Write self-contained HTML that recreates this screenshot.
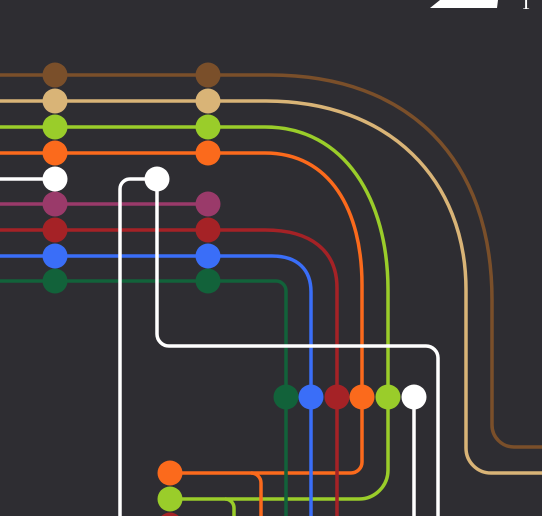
<!DOCTYPE html>
<html><head><style>html,body{margin:0;padding:0;background:#2e2d32;}svg{display:block}</style></head>
<body>
<svg width="542" height="516" viewBox="0 0 542 516" xmlns="http://www.w3.org/2000/svg" fill="none" stroke-width="3.5" stroke-linecap="butt">
<rect width="542" height="516" fill="#2e2d32"/>
<path d="M430 8 L440 0 L498 0 L497 8 Z" fill="#fff" stroke="none"/>
<text x="520" y="9" fill="#fff" font-family="Liberation Serif, serif" font-size="20">T</text>
<path d="M0 75 H270 C410 75 492 160 492 300 V425 A22 22 0 0 0 514 447 H542" stroke="#7a4f2a"/>
<path d="M0 101 H266 C390 101 466 180 466 290 V448 A25 25 0 0 0 491 473 H542" stroke="#d9b477"/>
<path d="M0 127 H265 C345 127 388 200 388 290 V470 A29 29 0 0 1 359 499 H170" stroke="#9acd2a"/>
<path d="M225 499 A9 9 0 0 1 234 508 V516" stroke="#9acd2a"/>
<path d="M0 153 H265 C330 153 362 210 362 285 V462 A11 11 0 0 1 351 473 H170" stroke="#fb6a1c"/>
<path d="M251 473 A10 10 0 0 1 261 483 V516" stroke="#fb6a1c"/>
<path d="M0 204 H208" stroke="#9a3a6a"/>
<path d="M0 230 H265 C310 230 337 250 337 288 V516" stroke="#a52226"/>
<path d="M0 256 H272 C298 256 311 270 311 292 V516" stroke="#3a6ef8"/>
<path d="M0 281 H276 A10 10 0 0 1 286 291 V516" stroke="#12623a"/>
<path d="M0 179 H55" stroke="#fff"/>
<path d="M157 179 H130 A10 10 0 0 0 120 189 V516" stroke="#fff"/>
<path d="M157 179 V334 A12 12 0 0 0 169 346 H426 A12 12 0 0 1 438 358 V516" stroke="#fff"/>
<path d="M414 397 V516" stroke="#fff"/>
<g stroke="none">
<circle cx="55" cy="75" r="12.5" fill="#7a4f2a"/><circle cx="208" cy="75" r="12.5" fill="#7a4f2a"/>
<circle cx="55" cy="101" r="12.5" fill="#d9b477"/><circle cx="208" cy="101" r="12.5" fill="#d9b477"/>
<circle cx="55" cy="127" r="12.5" fill="#9acd2a"/><circle cx="208" cy="127" r="12.5" fill="#9acd2a"/>
<circle cx="55" cy="153" r="12.5" fill="#fb6a1c"/><circle cx="208" cy="153" r="12.5" fill="#fb6a1c"/>
<circle cx="55" cy="179" r="12.5" fill="#fff"/><circle cx="157" cy="179" r="12.5" fill="#fff"/>
<circle cx="55" cy="204" r="12.5" fill="#9a3a6a"/><circle cx="208" cy="204" r="12.5" fill="#9a3a6a"/>
<circle cx="55" cy="230" r="12.5" fill="#a52226"/><circle cx="208" cy="230" r="12.5" fill="#a52226"/>
<circle cx="55" cy="256" r="12.5" fill="#3a6ef8"/><circle cx="208" cy="256" r="12.5" fill="#3a6ef8"/>
<circle cx="55" cy="281" r="12.5" fill="#12623a"/><circle cx="208" cy="281" r="12.5" fill="#12623a"/>
<circle cx="286" cy="397" r="12.5" fill="#12623a"/>
<circle cx="311" cy="397" r="12.5" fill="#3a6ef8"/>
<circle cx="337" cy="397" r="12.5" fill="#a52226"/>
<circle cx="362" cy="397" r="12.5" fill="#fb6a1c"/>
<circle cx="388" cy="397" r="12.5" fill="#9acd2a"/>
<circle cx="414" cy="397" r="12.5" fill="#fff"/>
<circle cx="170" cy="473" r="12.5" fill="#fb6a1c"/>
<circle cx="170" cy="499" r="12.5" fill="#9acd2a"/>
<circle cx="170" cy="525" r="12.5" fill="#a52226"/>
</g>
</svg>
</body></html>
